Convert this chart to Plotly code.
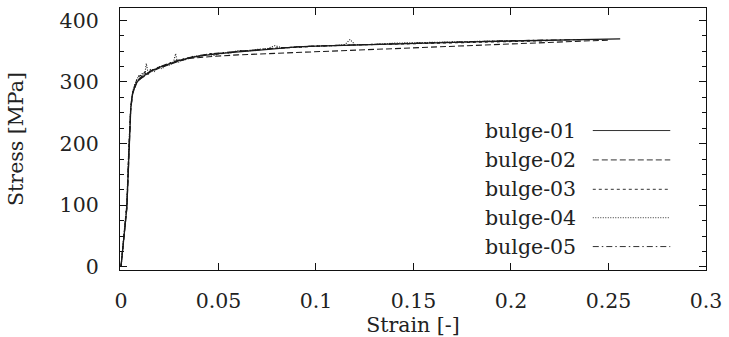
import plotly.graph_objects as go

# ---- data ----
strain_01 = [0, 0.001, 0.002, 0.003, 0.0035, 0.004, 0.0045, 0.005, 0.0055, 0.006, 0.007, 0.008, 0.01, 0.0125,
             0.015, 0.02, 0.025, 0.03, 0.035, 0.04, 0.05, 0.06, 0.07, 0.08, 0.09, 0.1, 0.11, 0.12, 0.13,
             0.14, 0.15, 0.16, 0.18, 0.2, 0.22, 0.24, 0.256]
stress_01 = [0, 30, 62, 96, 135, 185, 228, 256, 272, 282, 292, 299, 306, 312,
             317, 324, 330, 335, 339, 342, 346, 349, 352, 354, 357, 358, 359, 360, 361,
             362, 362.5, 363.5, 365, 366.5, 367.5, 369, 370]

strain_02 = [0, 0.001, 0.002, 0.003, 0.0035, 0.004, 0.0045, 0.005, 0.006, 0.007, 0.008, 0.01, 0.0125,
             0.015, 0.02, 0.025, 0.03, 0.035, 0.04, 0.045, 0.06, 0.08, 0.1, 0.13, 0.16, 0.2, 0.25]
stress_02 = [0, 28, 60, 94, 132, 182, 226, 255, 281, 291, 298, 305, 311,
             316, 323, 329, 334, 338, 340, 341, 344, 346.5, 348.5, 352.5, 356, 361, 368]

strain_03 = [0, 0.001, 0.002, 0.003, 0.004, 0.005, 0.006, 0.007, 0.008, 0.009, 0.011, 0.013, 0.014,
             0.016, 0.018, 0.02, 0.023, 0.026, 0.028, 0.03, 0.034, 0.038, 0.042, 0.046, 0.05, 0.06,
             0.07, 0.08, 0.09, 0.1, 0.12, 0.14, 0.16, 0.18, 0.2, 0.22]
stress_03 = [0, 33, 66, 100, 190, 258, 283, 294, 303, 309, 312, 318, 314,
             320, 321, 325, 327, 331, 333, 334, 338, 341, 343, 346, 345, 350,
             352, 355, 356, 358, 360, 361.5, 363, 365, 366.5, 367]

strain_04 = [0, 0.001, 0.002, 0.003, 0.004, 0.005, 0.006, 0.007, 0.008, 0.009, 0.01, 0.011, 0.012,
             0.013, 0.014, 0.015, 0.017, 0.019, 0.021, 0.023, 0.025, 0.027, 0.028, 0.029, 0.031,
             0.034, 0.037, 0.04, 0.044, 0.048, 0.052, 0.056, 0.06, 0.065, 0.07, 0.075, 0.079, 0.083,
             0.09, 0.1, 0.11, 0.115, 0.1175, 0.12, 0.13, 0.14, 0.16, 0.18, 0.2]
stress_04 = [0, 36, 68, 104, 195, 260, 284, 296, 302, 310, 304, 315, 309,
             330, 312, 320, 316, 325, 321, 328, 327, 333, 346, 331, 335,
             337, 342, 340, 345, 343, 348, 347, 351, 350, 353, 354, 359, 355,
             357, 358.5, 359, 361, 369, 360.5, 361, 363, 364, 366, 367]

strain_05 = [0, 0.001, 0.002, 0.003, 0.004, 0.005, 0.006, 0.007, 0.008, 0.01, 0.012, 0.015, 0.02,
             0.025, 0.03, 0.035, 0.04, 0.05, 0.06, 0.07, 0.08, 0.1, 0.12, 0.14, 0.16, 0.18, 0.2,
             0.22, 0.24]
stress_05 = [0, 31, 64, 98, 188, 257, 281, 293, 301, 307, 313, 318, 325,
             331, 336, 340, 343, 347, 350, 353, 355, 358.5, 360.5, 362.5, 364, 365.5, 367,
             368, 369]

series_names = ["bulge-01", "bulge-02", "bulge-03", "bulge-04", "bulge-05"]
x_ticks = [0, 0.05, 0.1, 0.15, 0.2, 0.25, 0.3]
x_tick_labels = ["0", "0.05", "0.1", "0.15", "0.2", "0.25", "0.3"]
y_ticks = [0, 100, 200, 300, 400]

# ---- styles ----
FONT = "DejaVu Serif"
FS = 20.5
dashes = ["solid", "6px,3px", "3px,3px", "1px,1.5px", "6px,3px,1.5px,3px"]
widths = [1.3, 1.1, 1.1, 1.1, 1.1]
line_color = "#1a1a1a"

xs = [strain_01, strain_02, strain_03, strain_04, strain_05]
ys = [stress_01, stress_02, stress_03, stress_04, stress_05]

fig = go.Figure()
for name, x, y, d, w in zip(series_names, xs, ys, dashes, widths):
    fig.add_trace(go.Scatter(x=x, y=y, mode="lines", name=name,
                             line=dict(color=line_color, width=w, dash=d),
                             showlegend=False))

# ---- custom legend (text left of sample, gnuplot style) ----
leg_y = [0.5323, 0.4202, 0.308, 0.1996, 0.0894]
for name, d, ly in zip(series_names, dashes, leg_y):
    fig.add_annotation(x=0.7814, y=ly, xref="paper", yref="paper", text=name,
                       showarrow=False, xanchor="right", yanchor="middle",
                       font=dict(family=FONT, size=FS, color="#222"))
    fig.add_shape(type="line", xref="paper", yref="paper", x0=0.8068, x1=0.939, y0=ly, y1=ly,
                  line=dict(color="#333", width=1, dash=d))

axis_common = dict(
    showgrid=False, zeroline=False, showline=True, linecolor="#111", linewidth=1.3,
    mirror="ticks", ticks="inside", tickcolor="#111", tickwidth=1,
    tickfont=dict(family=FONT, size=FS, color="#222"),
)

fig.update_xaxes(range=[-0.0005, 0.3], tickvals=x_ticks, ticktext=x_tick_labels, ticklen=7,
                 ticklabelstandoff=12,
                 title=dict(text="Strain [-]", font=dict(family=FONT, size=FS, color="#222"), standoff=0),
                 **axis_common)
fig.update_yaxes(range=[-5, 420], tickvals=y_ticks, ticklen=7, ticklabelstandoff=16,
                 minor=dict(dtick=25, ticks="inside", ticklen=4, tickcolor="#111", tickwidth=1),
                 title=dict(text="Stress [MPa]", font=dict(family=FONT, size=FS, color="#222"), standoff=30),
                 **axis_common)

fig.update_layout(
    width=729, height=337,
    margin=dict(l=120, r=19, t=7, b=67),
    plot_bgcolor="white", paper_bgcolor="white",
    showlegend=False,
    font=dict(family=FONT),
)

fig.write_html("out.html")
